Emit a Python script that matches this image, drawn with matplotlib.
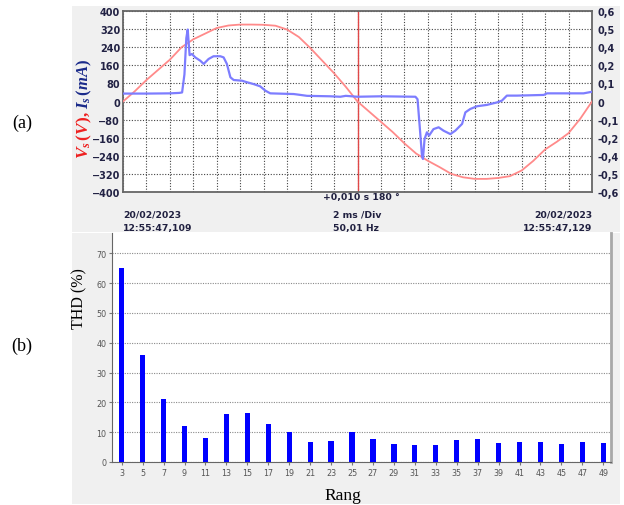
import numpy as np
import matplotlib.pyplot as plt
from matplotlib.patches import Rectangle

plt.rcParams['mathtext.fontset'] = 'custom'
plt.rcParams['mathtext.it'] = 'Liberation Serif:italic:bold'
plt.rcParams['mathtext.rm'] = 'Liberation Serif:bold'
plt.rcParams['mathtext.bf'] = 'Liberation Serif:bold'

# (a) oscilloscope capture: time in ms, voltage in V, current drawn on the same scale
t_v = [0, 0.5, 1, 1.5, 2, 2.5, 3, 3.5, 4, 4.5, 5, 5.5, 6, 6.5, 7, 7.5, 8, 8.5, 9, 9.5,
       10, 10.5, 11, 11.5, 12, 12.5, 13, 13.5, 14, 14.5, 15, 15.5, 16, 16.5, 17, 17.5,
       18, 18.5, 19, 19.5, 20]
v_s = [0, 45, 95, 140, 185, 240, 275, 300, 325, 336, 340, 340, 339, 335, 318, 285, 235, 180, 125, 65,
       0, -45, -90, -135, -185, -230, -262, -290, -320, -335, -342, -342, -338, -330, -305, -262,
       -212, -178, -140, -76, 0]

t_i = [0, 1, 2, 2.4, 2.52, 2.62, 2.7, 2.76, 2.8, 2.84, 2.94, 3.08, 3.3, 3.44, 3.65, 3.86,
       4.15, 4.29, 4.43, 4.58, 4.72, 5.07, 5.29, 5.57, 5.85, 6.07, 6.28, 7.28, 7.5, 7.85,
       8.84, 9.27, 9.5, 10, 11, 12.47, 12.56, 12.65, 12.75, 12.79, 12.86, 12.96, 13.05,
       13.24, 13.46, 13.67, 13.96, 14.17, 14.46, 14.6, 14.81, 15.1, 15.52, 15.95, 16.16,
       16.37, 16.8, 17.94, 18.08, 19.64, 20]
i_s = [35, 35, 36, 38, 40, 120, 280, 318, 260, 205, 210, 195, 180, 166, 188, 200,
       200, 195, 166, 107, 95, 92, 85, 77, 67, 48, 36, 33, 30, 25,
       23, 21, 25, 21, 23, 21, 10, -107, -240, -254, -166, -136, -151,
       -122, -114, -129, -144, -129, -99, -48, -33, -21, -15, -4, 4,
       26, 26, 29, 36, 36, 43]

left_ticks = [-400, -320, -240, -160, -80, 0, 80, 160, 240, 320, 400]
right_labels = ['-0,6', '-0,5', '-0,4', '-0,2', '-0,1', '0', '0,1', '0,2', '0,4', '0,5', '0,6']

# (b) harmonic spectrum
rang = [3, 5, 7, 9, 11, 13, 15, 17, 19, 21, 23, 25, 27, 29, 31, 33, 35, 37, 39, 41, 43, 45, 47, 49]
thd = [65, 36, 21, 12, 8, 16, 16.4, 12.6, 10, 6.8, 7.1, 10, 7.8, 5.9, 5.8, 5.8, 7.3, 7.8,
       6.4, 6.7, 6.7, 5.9, 6.7, 6.4]

W, H = 624, 506
fig = plt.figure(figsize=(W / 100, H / 100), dpi=100)


def box(x0, y0, x1, y1):
    # pixel box (top-left origin) -> figure fraction rect
    return [x0 / W, 1 - y1 / H, (x1 - x0) / W, (y1 - y0) / H]


panel = '#f0f0f0'
for r in (box(72, 7, 620, 233), box(72, 234, 620, 505)):
    fig.add_artist(Rectangle((r[0], r[1]), r[2], r[3], transform=fig.transFigure,
                             facecolor=panel, edgecolor='none', zorder=-5))

# ---- top: scope trace ----
ax = fig.add_axes(box(123, 12, 592, 193))
ax.set_facecolor('white')
ax.plot(t_v, v_s, color='#ff8a8a', lw=1.3, zorder=3)
ax.plot(t_i, i_s, color='#7d7dff', lw=1.6, zorder=4)
ax.axvline(10, color='#e04848', lw=1.0, zorder=2)
ax.set_xlim(0, 20)
ax.set_ylim(-400, 400)
ax.set_xticks(np.arange(0, 21, 1))
ax.set_yticks(left_ticks)
ax.grid(True, color='#444444', ls=(0, (1, 1.5)), lw=0.8)
ax.tick_params(axis='x', length=0, labelbottom=False)
ax.tick_params(axis='y', length=0, pad=2, labelsize=7)
for lab in ax.get_yticklabels():
    lab.set_fontweight('bold')
    lab.set_color('#222244')
for s in ax.spines.values():
    s.set_color('#666666')
    s.set_linewidth(1.3)

ax2 = ax.twinx()
ax2.set_ylim(-400, 400)
ax2.set_yticks(left_ticks)
ax2.set_yticklabels(right_labels, fontsize=7, fontweight='bold', color='#222244')
ax2.tick_params(axis='y', length=0, pad=4)
for s in ax2.spines.values():
    s.set_visible(False)

txt = dict(fontsize=6.7, fontweight='bold', color='#202040')
fig.text(323 / W, 1 - 198 / H, '+0,010 s 180 °', ha='left', va='center', **txt)
fig.text(333 / W, 1 - 215 / H, '2 ms /Div', ha='left', va='center', **txt)
fig.text(333 / W, 1 - 228 / H, '50,01 Hz', ha='left', va='center', **txt)
fig.text(123 / W, 1 - 215 / H, '20/02/2023', ha='left', va='center', **txt)
fig.text(123 / W, 1 - 228 / H, '12:55:47,109', ha='left', va='center', **txt)
fig.text(592 / W, 1 - 215 / H, '20/02/2023', ha='right', va='center', **txt)
fig.text(592 / W, 1 - 228 / H, '12:55:47,129', ha='right', va='center', **txt)

# two-coloured y label
fig.text(84 / W, 1 - 111 / H, r'$V_s\,(V),$', rotation=90, ha='center', va='top',
         fontsize=12.5, color='#ee2020')
fig.text(84 / W, 1 - 111 / H, r'$\,I_s\,(mA)$', rotation=90, ha='center', va='bottom',
         fontsize=12, color='#1a2a8a')

# ---- bottom: THD bars ----
bx = fig.add_axes(box(112, 234, 611, 463))
bx.set_facecolor('white')
bx.bar(rang, thd, width=0.5, color='#0000ff', zorder=3)
bx.set_xlim(2.07, 49.74)
bx.set_ylim(0, 76.8)
bx.set_xticks(rang)
bx.set_yticks(np.arange(0, 71, 10))
bx.yaxis.grid(True, color='#8a8a8a', ls=(0, (1, 1.2)), lw=0.8)
bx.tick_params(axis='both', length=2, color='#777777', labelsize=5.8,
               labelcolor='#555555', pad=2)
bx.spines['top'].set_visible(False)
bx.spines['left'].set_color('#666666')
bx.spines['bottom'].set_color('#666666')
bx.spines['right'].set_color('#a8a8a8')
bx.spines['right'].set_linewidth(2)
bx.set_ylabel('THD (%)', family='Liberation Serif', fontsize=11.5)
bx.yaxis.set_label_coords(-0.05, 0.72)
bx.set_xlabel('Rang', family='Liberation Serif', fontsize=12.5)
bx.xaxis.set_label_coords(0.463, -0.11)

fig.text(22 / W, 1 - 123 / H, '(a)', family='Liberation Serif', fontsize=13,
         ha='center', va='center')
fig.text(22 / W, 1 - 346 / H, '(b)', family='Liberation Serif', fontsize=13,
         ha='center', va='center')

fig.savefig('out.png', dpi=100)
